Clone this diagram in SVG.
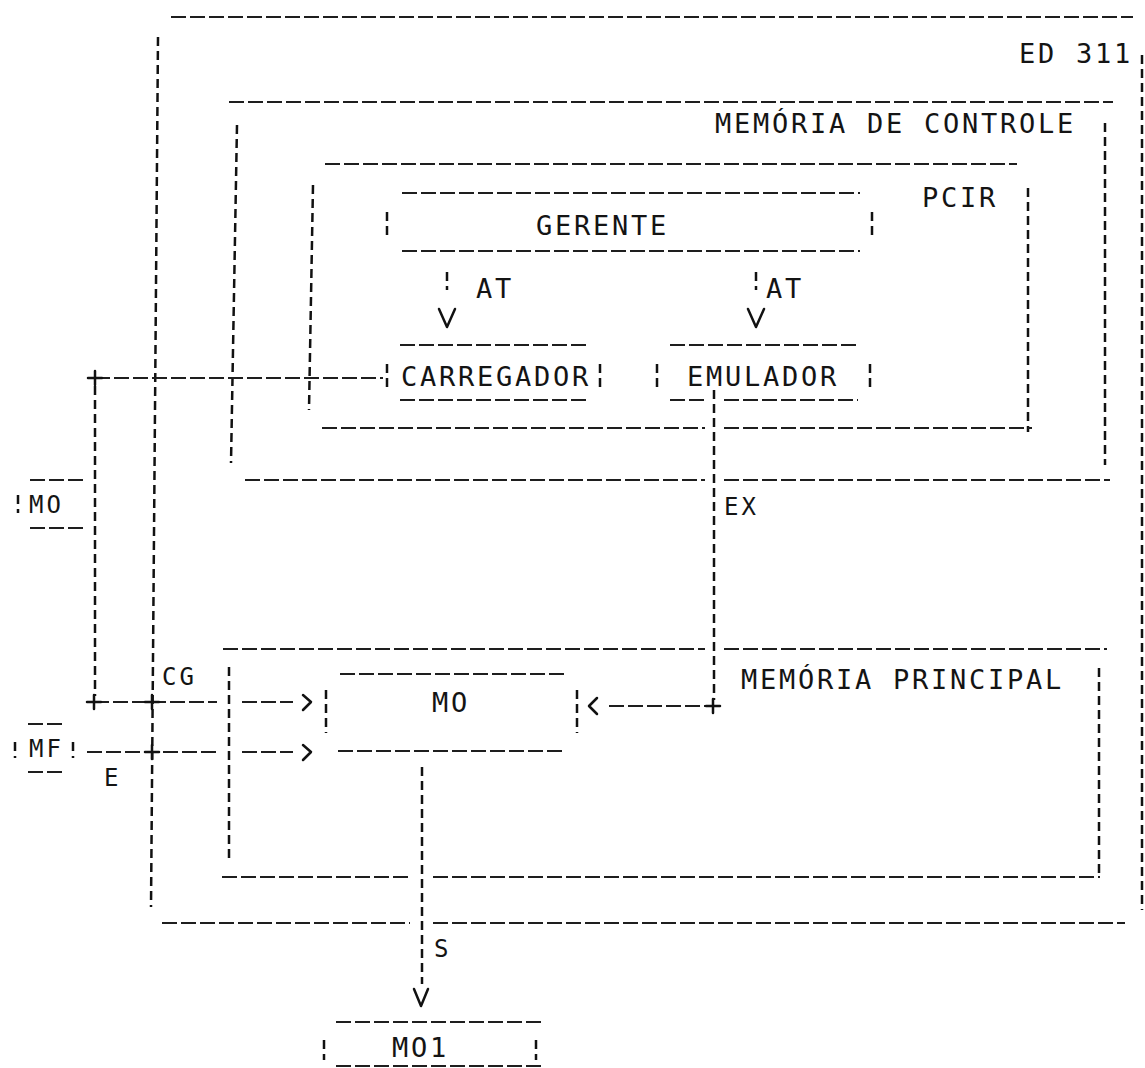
<svg xmlns="http://www.w3.org/2000/svg" width="1145" height="1068" viewBox="0 0 1145 1068">
<style>
.h{stroke:#1e1e1e;stroke-width:2;stroke-dasharray:15 4;fill:none}
.v{stroke:#111;stroke-width:2.5;stroke-dasharray:9 5;fill:none}
.a{stroke:#111;stroke-width:2.5;fill:none;stroke-linejoin:round;stroke-linecap:round}
.t{font-family:"DejaVu Sans Mono","Liberation Mono",monospace;font-size:27px;letter-spacing:2.75px;fill:#141414}
.s{font-family:"DejaVu Sans Mono","Liberation Mono",monospace;font-size:24px;letter-spacing:3px;fill:#141414}
</style>
<rect width="1145" height="1068" fill="#fff"/>

<g id="ed311">
<line class="h" x1="171" y1="17" x2="1133" y2="17"/>
<path class="v" d="M158 37 L151 907"/>
<line class="v" x1="1142" y1="55" x2="1142" y2="910"/>
<line class="h" x1="162" y1="923" x2="410" y2="923"/>
<line class="h" x1="433" y1="923" x2="1125" y2="923"/>
<text class="t" x="1019" y="63">ED 311</text>
</g>

<g id="memoria-controle">
<line class="h" x1="229" y1="102" x2="1113" y2="102"/>
<path class="v" d="M237 125 L231 463"/>
<line class="v" x1="1105" y1="123" x2="1105" y2="465"/>
<line class="h" x1="245" y1="480" x2="705" y2="480"/>
<line class="h" x1="724" y1="480" x2="1110" y2="480"/>
<text class="t" x="715" y="133">MEMÓRIA DE CONTROLE</text>
</g>

<g id="pcir">
<line class="h" x1="325" y1="164" x2="1017" y2="164"/>
<path class="v" d="M313 185 L309 410"/>
<line class="v" x1="1028" y1="188" x2="1028" y2="432"/>
<line class="h" x1="322" y1="428" x2="705" y2="428"/>
<line class="h" x1="724" y1="428" x2="1032" y2="428"/>
<text class="t" x="922" y="207">PCIR</text>
</g>

<g id="gerente">
<line class="h" x1="402" y1="193" x2="860" y2="193"/>
<line class="h" x1="402" y1="251" x2="860" y2="251"/>
<line class="v" x1="387" y1="212" x2="387" y2="235"/>
<line class="v" x1="872" y1="212" x2="872" y2="235"/>
<text class="t" x="536" y="235">GERENTE</text>
</g>

<g id="carregador">
<line class="h" x1="400" y1="345" x2="588" y2="345"/>
<line class="h" x1="400" y1="400" x2="588" y2="400"/>
<line class="v" x1="387" y1="364" x2="387" y2="387"/>
<line class="v" x1="600" y1="364" x2="600" y2="387"/>
<text class="t" x="401" y="386">CARREGADOR</text>
</g>

<g id="emulador">
<line class="h" x1="670" y1="345" x2="858" y2="345"/>
<line class="h" x1="670" y1="400" x2="705" y2="400"/>
<line class="h" x1="724" y1="400" x2="858" y2="400"/>
<line class="v" x1="657" y1="364" x2="657" y2="387"/>
<line class="v" x1="870" y1="364" x2="870" y2="387"/>
<text class="t" x="687" y="386">EMULADOR</text>
</g>

<g id="memoria-principal">
<line class="h" x1="223" y1="649" x2="705" y2="649"/>
<line class="h" x1="724" y1="649" x2="1107" y2="649"/>
<line class="v" x1="229" y1="667" x2="229" y2="860"/>
<line class="v" x1="1099" y1="668" x2="1099" y2="875"/>
<line class="h" x1="222" y1="877" x2="410" y2="877"/>
<line class="h" x1="433" y1="877" x2="1100" y2="877"/>
<text class="t" x="741" y="689">MEMÓRIA PRINCIPAL</text>
</g>

<g id="mo">
<line class="h" x1="340" y1="674" x2="565" y2="674"/>
<line class="h" x1="338" y1="751" x2="565" y2="751"/>
<line class="v" x1="326" y1="690" x2="326" y2="733"/>
<line class="v" x1="577" y1="690" x2="577" y2="733"/>
<text class="t" x="432" y="712">MO</text>
</g>

<g id="mo-externo">
<line class="h" x1="30" y1="480" x2="83" y2="480"/>
<line class="h" x1="30" y1="528" x2="83" y2="528"/>
<line class="v" x1="18" y1="495" x2="18" y2="513"/>
<text class="s" x="29" y="513">MO</text>
</g>

<g id="mf">
<line class="h" x1="28" y1="724" x2="62" y2="724"/>
<line class="h" x1="28" y1="772" x2="62" y2="772"/>
<line class="v" x1="15" y1="742" x2="15" y2="758"/>
<line class="v" x1="73" y1="742" x2="73" y2="758"/>
<text class="s" x="29" y="757">MF</text>
</g>

<g id="mo1">
<line class="h" x1="336" y1="1022" x2="543" y2="1022"/>
<line class="h" x1="336" y1="1066" x2="543" y2="1066"/>
<line class="v" x1="324" y1="1040" x2="324" y2="1060"/>
<line class="v" x1="536" y1="1040" x2="536" y2="1060"/>
<text class="t" x="392" y="1057">MO1</text>
</g>

<g id="connectors">
<!-- AT arrows -->
<line class="v" x1="447" y1="272" x2="447" y2="290"/>
<path class="a" d="M439 309 L447 327 L455 309"/>
<text class="t" x="476" y="298">AT</text>
<line class="v" x1="756" y1="272" x2="756" y2="290"/>
<path class="a" d="M748 309 L756 327 L764 309"/>
<text class="t" x="766" y="298">AT</text>

<!-- CARREGADOR load line -->
<line class="h" x1="95" y1="378" x2="383" y2="378"/>
<path class="a" d="M88 378 H102 M95 371 V385"/>
<line class="v" x1="95" y1="386" x2="95" y2="696"/>
<line class="h" x1="94" y1="702" x2="217" y2="702"/>
<path class="a" d="M87 702 H101 M94 695 V709"/>
<path class="a" d="M145 702 H159 M152 695 V709"/>
<line class="h" x1="242" y1="702" x2="293" y2="702"/>
<path class="a" d="M303 695 L311 702 L303 710"/>
<text class="s" x="162" y="685">CG</text>

<!-- MF entry -->
<line class="h" x1="87" y1="752" x2="217" y2="752"/>
<path class="a" d="M145 752 H159 M152 745 V759"/>
<line class="h" x1="242" y1="752" x2="293" y2="752"/>
<path class="a" d="M303 745 L311 752 L303 760"/>
<text class="s" x="104" y="786">E</text>

<!-- EX line -->
<line class="v" x1="714" y1="390" x2="714" y2="700"/>
<path class="a" d="M706 706 H720 M713 699 V713"/>
<line class="h" x1="609" y1="706" x2="705" y2="706"/>
<path class="a" d="M597 698 L589 706 L597 714"/>
<text class="s" x="724" y="515">EX</text>

<!-- S line -->
<line class="v" x1="422" y1="767" x2="422" y2="984"/>
<path class="a" d="M414 989 L421 1006 L428 989"/>
<text class="s" x="434" y="957">S</text>
</g>
</svg>
